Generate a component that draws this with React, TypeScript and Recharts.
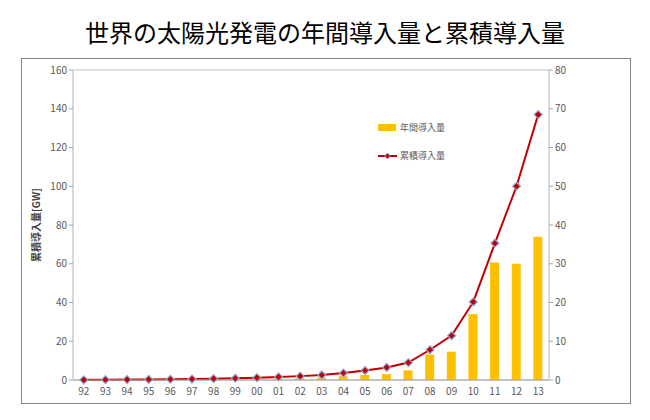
import React from "react";
import { ComposedChart, Bar, Line, XAxis, YAxis, CartesianGrid } from "recharts";

const years = ["92", "93", "94", "95", "96", "97", "98", "99", "00", "01", "02", "03", "04", "05", "06", "07", "08", "09", "10", "11", "12", "13"];
// 年間導入量 (GW, right axis)
const annual = [0.05, 0.06, 0.07, 0.08, 0.09, 0.12, 0.15, 0.2, 0.28, 0.33, 0.45, 0.6, 1.0, 1.3, 1.5, 2.5, 6.6, 7.3, 17.0, 30.3, 30.0, 37.0];
// 累積導入量 (GW, left axis)
const cumulative = [0.1, 0.15, 0.2, 0.3, 0.4, 0.5, 0.7, 0.9, 1.2, 1.6, 2.0, 2.6, 3.6, 4.9, 6.5, 9.0, 15.6, 22.9, 40.3, 70.6, 100.0, 137.0];
const leftTicks = [0, 20, 40, 60, 80, 100, 120, 140, 160];
const rightTicks = [0, 10, 20, 30, 40, 50, 60, 70, 80];

const data = years.map((y, i) => ({ year: y, annual: annual[i], cumulative: cumulative[i] }));

const FONT = "'Noto Sans CJK JP', 'Noto Sans', sans-serif";
const tickStyle = { fill: "#595959", fontSize: 10, fontFamily: FONT };

function Diamond(props: any) {
  const { cx, cy } = props;
  if (cx == null || cy == null) return null;
  const r = 4;
  return (
    <polygon
      points={`${cx},${cy - r} ${cx + r},${cy} ${cx},${cy + r} ${cx - r},${cy}`}
      fill="#C00000"
      stroke="#8EA9DB"
      strokeWidth={1.2}
    />
  );
}

function LegendBox() {
  return (
    <svg width={110} height={50} style={{ overflow: "visible", display: "block" }}>
      <rect x={0} y={3} width={18} height={7} fill="#FFC000" />
      <text x={22} y={10} fontSize={9} fill="#595959" fontFamily={FONT}>年間導入量</text>
      <line x1={0} y1={35} x2={19} y2={35} stroke="#C00000" strokeWidth={2} />
      <polygon points="9.5,32 12.5,35 9.5,38 6.5,35" fill="#C00000" stroke="#8EA9DB" strokeWidth={0.8} />
      <text x={22} y={38} fontSize={9} fill="#595959" fontFamily={FONT}>累積導入量</text>
    </svg>
  );
}

export default function App() {
  return (
    <div style={{ position: "absolute", left: 0, top: 0, width: 650, height: 420, background: "#fff" }}>
      <div
        style={{
          position: "absolute",
          left: 0,
          top: 16,
          width: 650,
          textAlign: "center",
          fontSize: 24,
          fontFamily: FONT,
          color: "#000",
          lineHeight: "32px",
        }}
      >
        世界の太陽光発電の年間導入量と累積導入量
      </div>
      <div
        style={{
          position: "absolute",
          left: 21,
          top: 58,
          width: 608,
          height: 344,
          border: "1px solid #868686",
        }}
      />
      <div style={{ position: "absolute", left: 0, top: 0 }}>
        <ComposedChart width={650} height={420} data={data} margin={{ top: 70, right: 71, bottom: 20, left: 43 }}>
          <CartesianGrid vertical={false} stroke="#BFBFBF" />
          <XAxis
            dataKey="year"
            tick={tickStyle}
            tickLine={false}
            axisLine={{ stroke: "#A6A6A6" }}
            interval={0}
            height={20}
          />
          <YAxis
            yAxisId="left"
            domain={[0, 160]}
            ticks={leftTicks}
            tick={tickStyle}
            tickSize={4}
            tickLine={{ stroke: "#A6A6A6" }}
            axisLine={{ stroke: "#D9D9D9", strokeWidth: 2 }}
            width={30}
            interval={0}
          />
          <YAxis
            yAxisId="right"
            orientation="right"
            domain={[0, 80]}
            ticks={rightTicks}
            tick={tickStyle}
            tickSize={4}
            tickLine={{ stroke: "#A6A6A6" }}
            axisLine={{ stroke: "#D9D9D9", strokeWidth: 2 }}
            width={30}
            interval={0}
          />
          <Bar yAxisId="right" dataKey="annual" name="年間導入量" fill="#FFC000" barSize={9} isAnimationActive={false} />
          <Line
            yAxisId="left"
            dataKey="cumulative"
            name="累積導入量"
            stroke="#C00000"
            strokeWidth={2}
            type="linear"
            dot={<Diamond />}
            activeDot={false}
            isAnimationActive={false}
          />
        </ComposedChart>
      </div>
      <div style={{ position: "absolute", left: 378, top: 121 }}>
        <LegendBox />
      </div>
      <div
        style={{
          position: "absolute",
          left: 35,
          top: 225,
          transform: "translate(-50%, -50%) rotate(-90deg)",
          fontSize: 10,
          fontWeight: "bold",
          fontFamily: FONT,
          color: "#404040",
          whiteSpace: "nowrap",
        }}
      >
        累積導入量[GW]
      </div>
    </div>
  );
}
